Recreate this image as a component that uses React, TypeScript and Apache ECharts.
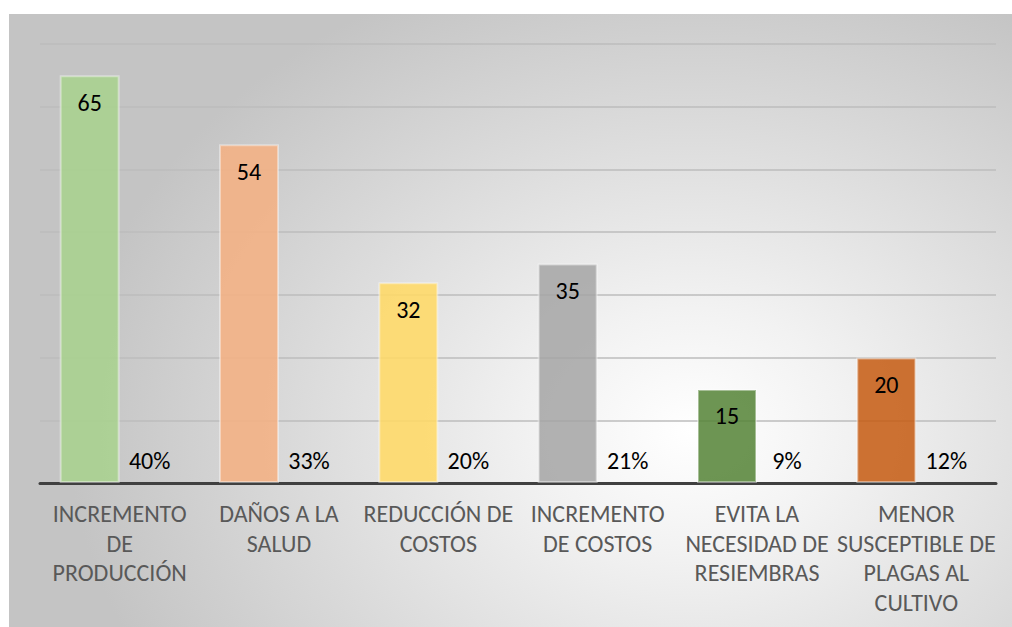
import React, { useEffect, useRef } from "react";
import * as echarts from "echarts";

const categories = [
  "INCREMENTO\nDE\nPRODUCCIÓN",
  "DAÑOS A LA\nSALUD",
  "REDUCCIÓN DE\nCOSTOS",
  "INCREMENTO\nDE COSTOS",
  "EVITA LA\nNECESIDAD DE\nRESIEMBRAS",
  "MENOR\nSUSCEPTIBLE DE\nPLAGAS AL\nCULTIVO",
];
const counts = [65, 54, 32, 35, 15, 20];
const percents = [40, 33, 20, 21, 9, 12];
const barColors = [
  "rgba(169,209,142,0.88)",
  "rgba(244,177,131,0.88)",
  "rgba(255,217,102,0.88)",
  "rgba(165,165,165,0.85)",
  "rgba(84,130,53,0.85)",
  "rgba(197,90,17,0.85)",
];
const yMax = 70;
const yInterval = 10;

const FONT = "Carlito, Lato, 'Liberation Sans', sans-serif";

export default function App() {
  const ref = useRef<HTMLDivElement>(null);
  useEffect(() => {
    if (!ref.current) return;
    const chart = echarts.init(ref.current, undefined, { renderer: "svg" });
    chart.setOption({
      animation: false,
      backgroundColor: "transparent",
      grid: { left: 40, right: 16, top: 44, bottom: 144, containLabel: false },
      xAxis: {
        type: "category",
        data: categories,
        axisLine: { show: true, lineStyle: { color: "#404040", width: 3 } },
        axisTick: { show: false },
        axisLabel: {
          color: "#595959",
          fontFamily: FONT,
          fontSize: 24,
          lineHeight: 29.5,
          margin: 16,
          interval: 0,
        },
      },
      yAxis: [
        {
          type: "value",
          min: 0,
          max: yMax,
          interval: yInterval,
          axisLabel: { show: false },
          axisLine: { show: false },
          axisTick: { show: false },
          splitLine: { lineStyle: { color: "#bcbcbc", width: 1.5 } },
        },
        {
          type: "value",
          min: 0,
          max: 100,
          show: false,
          splitLine: { show: false },
        },
      ],
      series: [
        {
          type: "bar",
          yAxisIndex: 0,
          barWidth: 60,
          barGap: "0%",
          data: counts.map((v, i) => ({
            value: v,
            itemStyle: { color: barColors[i] },
          })),
          itemStyle: { borderColor: "rgba(255,255,255,0.4)", borderWidth: 2 },
          label: {
            show: true,
            position: "insideTop",
            distance: 15,
            color: "#000",
            fontFamily: FONT,
            fontSize: 24,
          },
        },
        {
          type: "bar",
          yAxisIndex: 1,
          barWidth: 60,
          barGap: "0%",
          data: percents,
          itemStyle: { color: "rgba(0,0,0,0)" },
          label: {
            show: true,
            position: "insideBottom",
            distance: 11,
            color: "#000",
            fontFamily: FONT,
            fontSize: 24,
            formatter: (p: any) => `${p.value}%`,
          },
        },
      ],
    });
    return () => chart.dispose();
  }, []);
  return (
    <div style={{ position: "fixed", left: 0, top: 0, width: 1012, height: 627, background: "#fff" }}>
      <div
        style={{
          position: "absolute",
          left: 9,
          top: 14,
          width: 1003,
          height: 613,
          background:
            "radial-gradient(ellipse 62% 80% at 68% 68%, #ffffff 0%, #f2f2f2 25%, #c4c4c4 100%)",
        }}
      />
      <div ref={ref} style={{ position: "absolute", left: 0, top: 0, width: 1012, height: 627 }} />
    </div>
  );
}
